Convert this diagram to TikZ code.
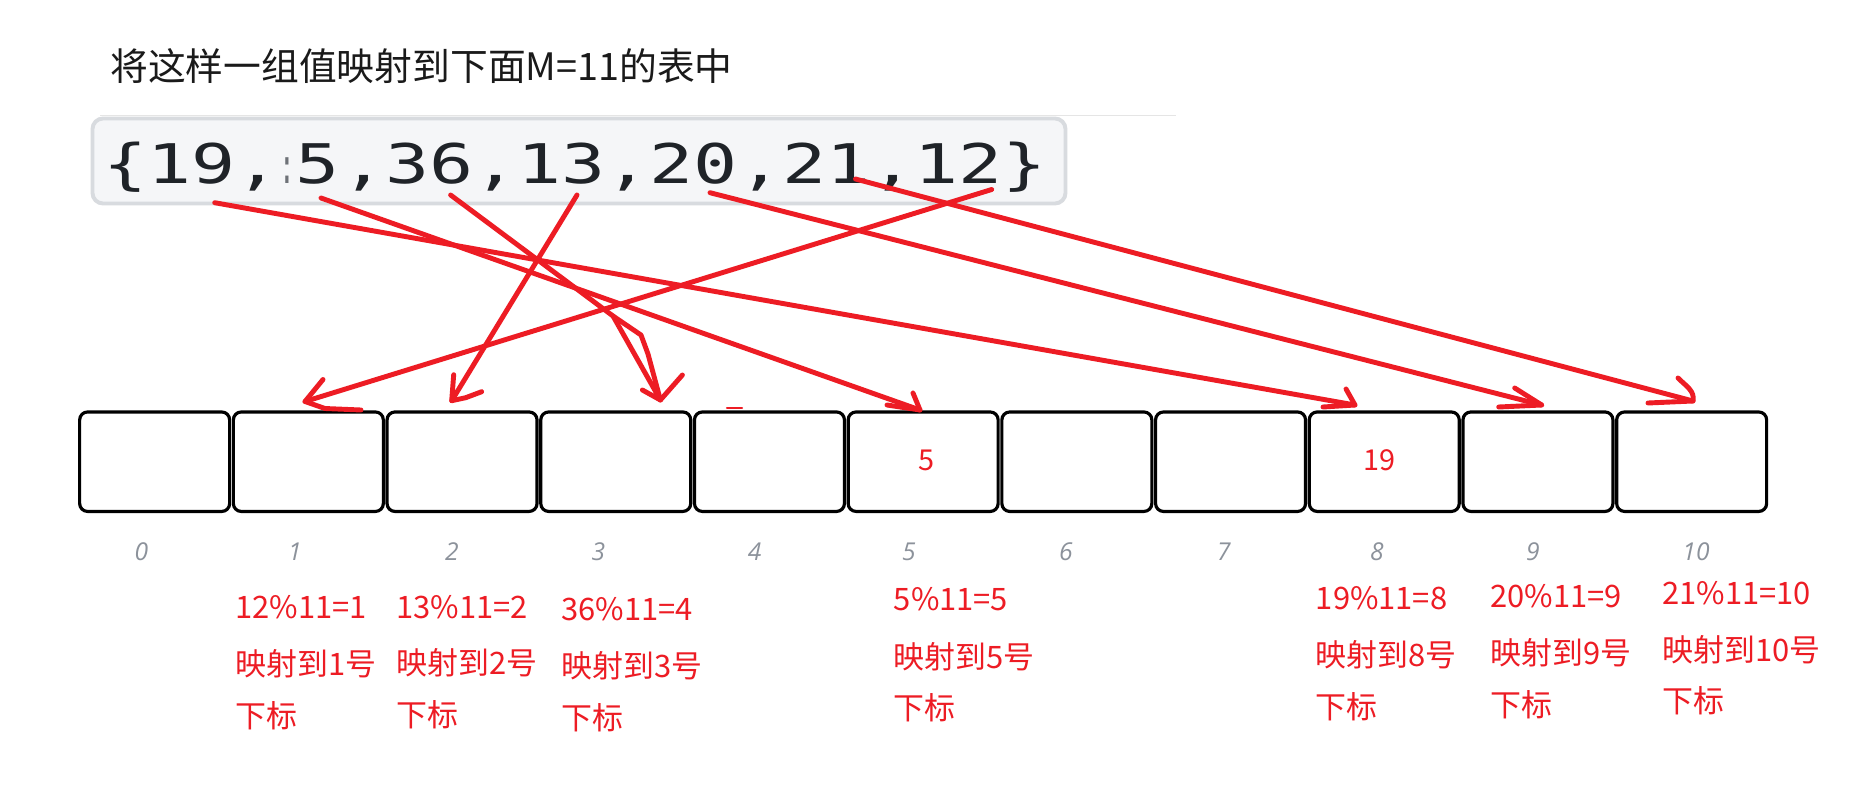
\documentclass[tikz,border=0pt]{standalone}
\usepackage{fontspec}
\newfontfamily\cjk{Noto Sans CJK SC}
\newfontfamily\monof{DejaVu Sans Mono}
\newfontfamily\idxf{Open Sans}
\definecolor{penred}{RGB}{237,28,36}
\definecolor{idxgray}{RGB}{140,146,155}
\definecolor{boxfill}{RGB}{245,246,248}
\definecolor{boxline}{RGB}{216,219,223}
\definecolor{rulegray}{RGB}{229,229,229}
\definecolor{titleblack}{RGB}{26,26,26}
\definecolor{codeblack}{RGB}{31,35,40}
\definecolor{colongray}{RGB}{110,114,120}
\begin{document}
\begin{tikzpicture}[x=0.02cm,y=-0.02cm,
  pen/.style={draw=penred, line width=2.8pt, line cap=round, line join=round},
  cell/.style={draw=black, line width=1.8pt, rounded corners=4.5pt, minimum width=3cm, minimum height=1.99cm, inner sep=0pt, outer sep=0pt},
  lab/.style={font=\cjk\fontsize{17.6}{20}\selectfont, text=penred, inner sep=0pt, anchor=base west},
  idx/.style={font=\idxf\itshape\fontsize{14}{16}\selectfont, text=idxgray, inner sep=0pt, anchor=base},
  val/.style={font=\cjk\fontsize{16.4}{18}\selectfont, text=penred, inner sep=0pt, anchor=base},
  mono/.style={font=\monof\fontsize{31.1}{34}\selectfont, text=codeblack, inner sep=0pt},
]
\useasboundingbox (0,0) rectangle (1870,798);
\fill[white] (0,0) rectangle (1870,798);

% title
\node[font=\cjk\fontsize{21.5}{24}\selectfont, text=titleblack, inner sep=0pt, anchor=base west] (title) at (110,80) {将这样一组值映射到下面M=11的表中};

% rule and code box
\draw[rulegray, line width=0.85pt] (100,115.5) -- (1176,115.5);
\draw[boxline, fill=boxfill, line width=2.2pt, rounded corners=6pt] (92.5,118.5) rectangle (1065.5,203.5);
\node[mono, anchor=base west] (codeA) at (103,183) {\scalebox{1.34}[1]{\{19,}{\color{colongray}\fontsize{14.9}{16}\selectfont\scalebox{1}[1.9]{:}}\scalebox{1.34}[1]{5}};
\node[mono, anchor=base west] (codeD) at (341,183) {\scalebox{1.34}[1]{,36,13,20,21,12\}}};

% cells
\foreach \k in {0,...,10}
  \node[cell] (c\k) at ({77.8+153.7*(\k+0.5)},461.7) {};
\node[val] (v5) at (926,470.5) {5};
\node[val] (v19) at (1379,470.5) {19};

% indices
\node[idx] (i0) at (141.5,560) {0};
\node[idx] (i1) at (295,560) {1};
\node[idx] (i2) at (452,560) {2};
\node[idx] (i3) at (598.5,560) {3};
\node[idx] (i4) at (754.6,560) {4};
\node[idx] (i5) at (909,560) {5};
\node[idx] (i6) at (1066,560) {6};
\node[idx] (i7) at (1224,560) {7};
\node[idx] (i8) at (1377,560) {8};
\node[idx] (i9) at (1533,560) {9};
\node[idx] (i10) at (1696,560) {10};

% red labels
\node[lab] (l1a) at (235,618.5) {12\%11=1};
\node[lab] (l1b) at (235,675) {映射到1号};
\node[lab] (l1c) at (235,727) {下标};
\node[lab] (l2a) at (396,618) {13\%11=2};
\node[lab] (l2b) at (396,674) {映射到2号};
\node[lab] (l2c) at (396,726) {下标};
\node[lab] (l3a) at (561,620) {36\%11=4};
\node[lab] (l3b) at (561,677) {映射到3号};
\node[lab] (l3c) at (561,729) {下标};
\node[lab] (l5a) at (893.5,610) {5\%11=5};
\node[lab] (l5b) at (893.5,668) {映射到5号};
\node[lab] (l5c) at (893.5,719.5) {下标};
\node[lab] (l8a) at (1315.5,609) {19\%11=8};
\node[lab] (l8b) at (1315.5,666) {映射到8号};
\node[lab] (l8c) at (1315.5,718) {下标};
\node[lab] (l9a) at (1490,607) {20\%11=9};
\node[lab] (l9b) at (1490,664) {映射到9号};
\node[lab] (l9c) at (1490,716) {下标};
\node[lab] (l10a) at (1662,604) {21\%11=10};
\node[lab] (l10b) at (1662,661) {映射到10号};
\node[lab] (l10c) at (1662,712) {下标};

% arrow coordinates
\coordinate (s19) at (214.7,202.7); \coordinate (t8) at (1355,405);
\coordinate (s5) at (321,198);      \coordinate (t5) at (920,410);
\coordinate (s36) at (450.6,195);   \coordinate (b36) at (613,316); \coordinate (t3) at (660.4,400);
\coordinate (s13) at (577,195);     \coordinate (t2) at (451.7,400.7);
\coordinate (s12) at (991.7,189.5); \coordinate (t1) at (305,401.5);
\coordinate (s20) at (710,192.7);   \coordinate (t9) at (1541.7,405);
\coordinate (s21) at (855.5,179);   \coordinate (t10) at (1693,401);

% arrows
\draw[pen] (s19) -- (t8);
\draw[pen] (t8) ++(-9,-16) -- (t8) -- ++(-32,2);
\draw[pen] (s5) -- (t5);
\draw[pen] (t5) ++(-7,-17) -- (t5) -- ++(-33,-5);
\draw[pen] (s36) -- (b36) -- (t3);
\draw[pen] (b36) -- (641,335) -- (648,354) -- (t3);
\draw[pen] (t3) ++(-18,-10) -- (t3) -- ++(22,-25);
\draw[pen] (s13) -- (t2);
\draw[pen] (t2) ++(2,-26) -- (t2) -- ++(14,-3) -- ++(16,-6);
\draw[pen] (s12) -- (t1);
\draw[pen] (t1) ++(18,-22) -- (t1) -- ++(20,7) -- ++(36,1.5);
\draw[pen] (s20) -- (t9);
\draw[pen] (t9) ++(-27,-17) -- (t9) -- ++(-43,2);
\draw[pen] (s21) -- (t10);
\draw[pen] (t10) ++(-15,-23) .. controls ++(8,8) and ++(2,-10) .. (t10) -- ++(-45,2);
\draw[pen, line width=1.2pt] (727,408) -- (742,408);
\end{tikzpicture}
\end{document}
